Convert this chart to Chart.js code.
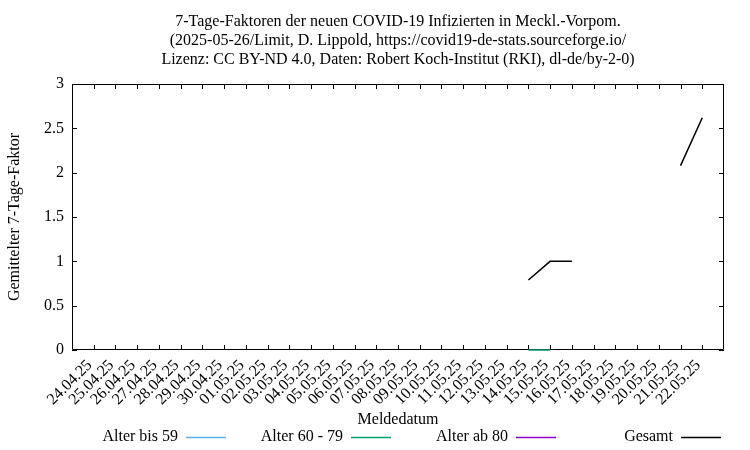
<!DOCTYPE html>
<html>
<head>
<meta charset="utf-8">
<script src="https://cdn.jsdelivr.net/npm/chart.js@4"></script>
<style>
  html, body { margin: 0; padding: 0; background: #fff; }
  #wrap { width: 750px; height: 450px; }
</style>
</head>
<body>
<div id="wrap"><canvas id="faktorCanvas" width="750" height="450"></canvas></div>
<script>
// Meldedatum (x-Achse)
const dates = [
  '24.04.25', '25.04.25', '26.04.25', '27.04.25', '28.04.25', '29.04.25', '30.04.25',
  '01.05.25', '02.05.25', '03.05.25', '04.05.25', '05.05.25', '06.05.25', '07.05.25',
  '08.05.25', '09.05.25', '10.05.25', '11.05.25', '12.05.25', '13.05.25', '14.05.25',
  '15.05.25', '16.05.25', '17.05.25', '18.05.25', '19.05.25', '20.05.25', '21.05.25',
  '22.05.25'
];

// Werte je Altersgruppe (null = kein Wert)
const alterBis59 = new Array(29).fill(null);
const alter60bis79 = [
  null, null, null, null, null, null, null, null, null, null,
  null, null, null, null, null, null, null, null, null, null,
  0, 0, null, null, null, null, null, null, null
];
const alterAb80 = new Array(29).fill(null);
const gesamt = [
  null, null, null, null, null, null, null, null, null, null,
  null, null, null, null, null, null, null, null, null, null,
  0.79, 1.0, 1.0, null, null, null, null, 2.08, 2.62
];

const yTicks = [0, 0.5, 1, 1.5, 2, 2.5, 3];

const titleLines = [
  '7-Tage-Faktoren der neuen COVID-19 Infizierten in Meckl.-Vorpom.',
  '(2025-05-26/Limit, D. Lippold, https://covid19-de-stats.sourceforge.io/',
  'Lizenz: CC BY-ND 4.0, Daten: Robert Koch-Institut (RKI), dl-de/by-2-0)'
];

const FONT = "'Liberation Serif', 'DejaVu Serif', serif";

const toPoints = arr => arr.map((y, i) => ({ x: i, y: y }));

// Rahmen, Ticks nach innen, Titel, Achsentitel und Legende (gnuplot-Stil)
const gnuplotLook = {
  id: 'gnuplotLook',
  beforeDatasetsDraw(chart) {
    const { ctx, chartArea: a, scales } = chart;
    ctx.save();
    ctx.strokeStyle = '#000';
    ctx.lineWidth = 1;
    ctx.beginPath();
    ctx.rect(a.left + 0.5, a.top + 0.5, a.right - a.left - 1, a.bottom - a.top - 1);
    const len = 5;
    scales.x.ticks.forEach(t => {
      const px = Math.round(scales.x.getPixelForValue(t.value)) + 0.5;
      ctx.moveTo(px, a.bottom); ctx.lineTo(px, a.bottom - len);
      ctx.moveTo(px, a.top); ctx.lineTo(px, a.top + len);
    });
    scales.y.ticks.forEach(t => {
      const py = Math.round(scales.y.getPixelForValue(t.value)) + 0.5;
      ctx.moveTo(a.left, py); ctx.lineTo(a.left + len, py);
      ctx.moveTo(a.right, py); ctx.lineTo(a.right - len, py);
    });
    ctx.stroke();
    ctx.restore();
  },
  afterDraw(chart) {
    const { ctx, chartArea: a } = chart;
    const cx = (a.left + a.right) / 2;
    ctx.save();
    ctx.fillStyle = '#000';
    ctx.font = '16px ' + FONT;
    ctx.textAlign = 'center';
    ctx.textBaseline = 'middle';
    titleLines.forEach((line, i) => ctx.fillText(line, cx, 22 + i * 19));

    // x-Achsentitel
    ctx.fillText('Meldedatum', cx, 420);

    // y-Achsentitel
    ctx.save();
    ctx.translate(15, (a.top + a.bottom) / 2);
    ctx.rotate(-Math.PI / 2);
    ctx.fillText('Gemittelter 7-Tage-Faktor', 0, 0);
    ctx.restore();

    // Legende: Text rechtsbündig, Linie rechts daneben
    ctx.textAlign = 'right';
    chart.data.datasets.forEach((ds, i) => {
      const xEnd = 178 + i * 165;
      const y = 437;
      ctx.fillStyle = '#000';
      ctx.fillText(ds.label, xEnd, y);
      ctx.strokeStyle = ds.borderColor;
      ctx.lineWidth = 1.5;
      ctx.beginPath();
      ctx.moveTo(xEnd + 8, y + 0.5);
      ctx.lineTo(xEnd + 48, y + 0.5);
      ctx.stroke();
    });
    ctx.restore();
  }
};

const ctx = document.getElementById('faktorCanvas').getContext('2d');

new Chart(ctx, {
  type: 'line',
  data: {
    datasets: [
      { label: 'Alter bis 59', data: toPoints(alterBis59), borderColor: '#56b4e9' },
      { label: 'Alter 60 - 79', data: toPoints(alter60bis79), borderColor: '#009e73', clip: 3 },
      { label: 'Alter ab 80', data: toPoints(alterAb80), borderColor: '#9400d3' },
      { label: 'Gesamt', data: toPoints(gesamt), borderColor: '#000000' }
    ]
  },
  options: {
    responsive: false,
    animation: false,
    spanGaps: false,
    layout: { padding: { top: 84, right: 26, left: 0, bottom: 0 } },
    elements: {
      point: { radius: 0, hoverRadius: 0 },
      line: { borderWidth: 1.5, tension: 0 }
    },
    plugins: {
      legend: { display: false },
      title: { display: false },
      tooltip: { enabled: false }
    },
    scales: {
      x: {
        type: 'linear',
        min: -1,
        max: 29,
        grid: { display: false, drawTicks: false },
        border: { display: false },
        afterBuildTicks: scale => { scale.ticks = dates.map((d, i) => ({ value: i })); },
        afterFit: scale => { scale.height = 100; },
        ticks: {
          autoSkip: false,
          maxRotation: 45,
          minRotation: 45,
          padding: 6,
          labelOffset: -4,
          color: '#000',
          font: { family: FONT, size: 16 },
          callback: v => dates[v]
        }
      },
      y: {
        min: 0,
        max: 3,
        grid: { display: false, drawTicks: false },
        border: { display: false },
        afterBuildTicks: scale => { scale.ticks = yTicks.map(v => ({ value: v })); },
        afterFit: scale => { scale.width = 72; },
        ticks: {
          padding: 8,
          color: '#000',
          font: { family: FONT, size: 16 },
          callback: v => String(v)
        }
      }
    }
  },
  plugins: [gnuplotLook]
});
</script>
</body>
</html>
